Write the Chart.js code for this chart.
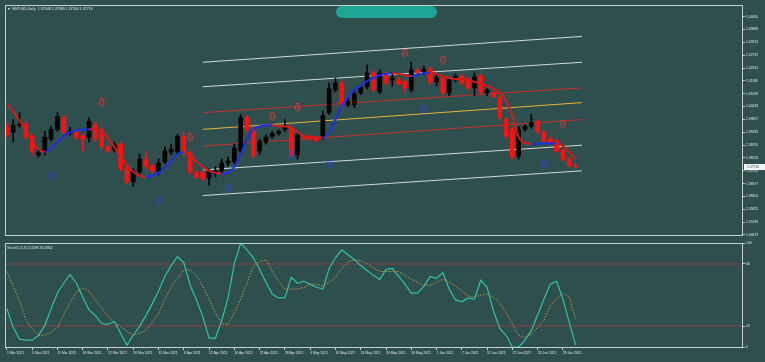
<!DOCTYPE html>
<html lang="en">
<head>
<meta charset="UTF-8">
<title>GBPUSD Daily</title>
<script src="https://cdn.jsdelivr.net/npm/chart.js"></script>
<style>
  html, body { margin: 0; padding: 0; background: #2f4f4f; overflow: hidden; }
  #wrap { position: relative; width: 765px; height: 362px; }
  #price-chart { position: absolute; left: 0; top: 0; }
  #stoch-chart { position: absolute; left: 0; top: 240px; }
  #blot { position: absolute; left: 336px; top: 6px; width: 101px; height: 12px; background: #1ea597; border-radius: 6px; }
</style>
</head>
<body>
<div id="wrap">
  <canvas id="price-chart" width="765" height="240"></canvas>
  <canvas id="stoch-chart" width="765" height="122"></canvas>
  <div id="blot"></div>
</div>
<script>
// daily candles, 1 Mar 2021 onwards
const opens = [1.3950,1.3928,1.3959,1.3963,1.3910,1.3826,1.3839,1.3897,1.3941,1.3994,
  1.3923,1.3928,1.3910,1.3906,1.3963,1.3941,1.3861,1.3852,1.3875,1.3764,
  1.3706,1.3751,1.3808,1.3777,1.3751,1.3795,1.3839,1.3839,1.3910,1.3835,
  1.3746,1.3746,1.3724,1.3742,1.3755,1.3790,1.3795,1.3844,1.3994,1.3941,
  1.3844,1.3884,1.3910,1.3923,1.3941,1.3950,1.3826,1.3910,1.3906,1.3901,
  1.3906,1.4016,1.4118,1.4149,1.4052,1.4052,1.4105,1.4132,1.4194,1.4109,
  1.4185,1.4163,1.4163,1.4154,1.4118,1.4207,1.4198,1.4211,1.4154,1.4171,
  1.4105,1.4163,1.4180,1.4163,1.4127,1.4180,1.4105,1.4105,1.4083,1.3985,
  1.3941,1.3821,1.3941,1.3954,1.3977,1.3928,1.3897,1.3888,1.3844,1.3808,1.3777];
const highs = [1.3968,1.3985,1.4016,1.3977,1.3919,1.3852,1.3932,1.3954,1.4016,1.4003,
  1.3950,1.3937,1.3919,1.3994,1.3977,1.3950,1.3870,1.3884,1.3884,1.3773,
  1.3764,1.3830,1.3844,1.3786,1.3808,1.3861,1.3875,1.3919,1.3928,1.3844,
  1.3755,1.3755,1.3764,1.3773,1.3808,1.3817,1.3875,1.4008,1.4003,1.3950,
  1.3897,1.3915,1.3932,1.3941,1.3985,1.3959,1.3923,1.3919,1.3915,1.3910,
  1.4021,1.4149,1.4171,1.4163,1.4083,1.4118,1.4140,1.4229,1.4207,1.4207,
  1.4198,1.4198,1.4176,1.4163,1.4242,1.4216,1.4225,1.4220,1.4189,1.4180,
  1.4171,1.4189,1.4189,1.4171,1.4194,1.4189,1.4123,1.4114,1.4092,1.3994,
  1.3950,1.3954,1.3963,1.4008,1.3985,1.3937,1.3906,1.3897,1.3852,1.3817,1.3790];
const lows = [1.3906,1.3884,1.3950,1.3897,1.3826,1.3817,1.3826,1.3888,1.3932,1.3919,
  1.3915,1.3897,1.3844,1.3884,1.3888,1.3852,1.3835,1.3839,1.3755,1.3697,
  1.3684,1.3742,1.3764,1.3746,1.3737,1.3786,1.3826,1.3830,1.3821,1.3742,
  1.3720,1.3711,1.3689,1.3728,1.3746,1.3777,1.3786,1.3835,1.3928,1.3812,
  1.3830,1.3875,1.3901,1.3915,1.3932,1.3817,1.3808,1.3897,1.3890,1.3885,
  1.3897,1.4008,1.4109,1.4039,1.4043,1.4039,1.4096,1.4123,1.4109,1.4101,
  1.4140,1.4136,1.4140,1.4109,1.4109,1.4185,1.4189,1.4145,1.4136,1.4096,
  1.4092,1.4154,1.4140,1.4118,1.4092,1.4101,1.4092,1.4083,1.3985,1.3901,
  1.3808,1.3808,1.3932,1.3946,1.3919,1.3884,1.3879,1.3839,1.3799,1.3773,1.3768];
const closes = [1.3919,1.3959,1.3963,1.3906,1.3844,1.3835,1.3906,1.3941,1.3999,1.3928,
  1.3932,1.3906,1.3897,1.3977,1.3897,1.3866,1.3844,1.3870,1.3764,1.3706,
  1.3751,1.3808,1.3773,1.3755,1.3790,1.3844,1.3852,1.3910,1.3839,1.3751,
  1.3728,1.3720,1.3751,1.3755,1.3790,1.3799,1.3857,1.3994,1.3941,1.3821,
  1.3888,1.3906,1.3923,1.3932,1.3950,1.3821,1.3915,1.3901,1.3897,1.3892,
  1.4003,1.4123,1.4149,1.4052,1.4065,1.4101,1.4132,1.4194,1.4118,1.4194,
  1.4149,1.4171,1.4145,1.4127,1.4207,1.4194,1.4211,1.4154,1.4171,1.4105,
  1.4163,1.4180,1.4149,1.4127,1.4176,1.4109,1.4118,1.4087,1.3994,1.3910,
  1.3817,1.3941,1.3954,1.3972,1.3928,1.3888,1.3884,1.3844,1.3808,1.3777,1.3772];

// smoothed moving average (blue rising, red falling)
const maValues = [1.4056,1.4021,1.3981,1.3937,1.3888,1.3852,1.3839,1.3857,1.3884,1.3910,
  1.3928,1.3937,1.3939,1.3941,1.3940,1.3932,1.3901,1.3861,1.3821,1.3782,
  1.3751,1.3733,1.3728,1.3733,1.3746,1.3768,1.3799,1.3830,1.3839,1.3826,
  1.3795,1.3773,1.3755,1.3746,1.3742,1.3746,1.3773,1.3830,1.3897,1.3941,
  1.3954,1.3959,1.3959,1.3956,1.3954,1.3950,1.3928,1.3910,1.3906,1.3905,
  1.3904,1.3928,1.3985,1.4047,1.4087,1.4118,1.4136,1.4158,1.4171,1.4185,
  1.4189,1.4194,1.4189,1.4185,1.4180,1.4185,1.4194,1.4196,1.4189,1.4180,
  1.4171,1.4167,1.4166,1.4163,1.4154,1.4145,1.4136,1.4123,1.4105,1.4070,
  1.3999,1.3906,1.3879,1.3875,1.3876,1.3877,1.3877,1.3877,1.3866,1.3839,1.3808];

// regression channel: start/end bar and price of each line (top to bottom)
const channelStart = 31;
const channelEnd = 91;
const channelStartPrices = [1.4242, 1.4132, 1.4016, 1.3941, 1.3866, 1.3759, 1.3644];
const channelEndPrices = [1.4358, 1.4242, 1.4127, 1.4061, 1.3985, 1.3870, 1.3755];

// signal arrows
const redArrowX = [15, 29, 42, 46, 63, 69, 88];
const redArrowY = [1.4061, 1.3906, 1.3999, 1.4039, 1.4282, 1.4251, 1.3963];
const blueArrowX = [7, 24, 35, 45, 51, 66, 85];
const blueArrowY = [1.3733, 1.3622, 1.3680, 1.3830, 1.3786, 1.4034, 1.3786];

// stochastic (5,3,3)
const stochMain = [36.8,18.9,7.5,6.6,6.6,11.3,20.8,36.8,51.9,61.3,
  69.8,61.3,48.1,35.8,30.2,22.6,21.7,24.5,13.2,1.9,
  11.3,19.8,30.2,41.5,53.8,67.9,78.3,86.8,81.1,59.4,
  45.3,29.2,8.5,8.5,25.5,47.2,80.2,100,93.4,85.8,
  74.5,62.3,50.9,47.2,47.2,67,61.3,63.2,60.4,57.5,
  55.7,75.5,85.8,93.4,88.7,84,78.3,73.6,68.9,65.1,
  74.5,75.5,67.9,60.4,51.9,51.9,58.5,67.9,66,71.7,
  55.7,45.3,43.4,47.2,46.2,64.2,57.5,34.9,17.9,11.3,
  0,0,6.6,16,31.1,46.2,60.4,63.2,46.2,23.6,2.0];
const stochSignal = [72.6,58.5,44.3,26.4,17,11.3,11.3,14.2,18.9,31.1,
  42.5,52.8,56.6,53.8,45.3,37.7,29.2,23.6,19.8,15.1,
  11.3,13.2,16,23.6,32.1,46.2,57.5,66,73.6,74.5,
  68.9,58.5,46.2,33,22.6,21.7,33,46.2,61.3,77.4,
  82.1,84,72.6,63.2,55.7,55.7,55.7,57.5,60.4,60.4,
  58.5,62.3,67,75.5,82.1,84,83,80.2,76.4,72.6,
  72.6,72.6,72.6,68.9,65.1,62.3,59.4,59.4,62.3,65.1,
  62.3,58.5,53.8,49.1,48.1,50,50.9,48.1,42.5,33,
  22.6,11.3,9.4,12.3,18.9,25.5,39.6,46.2,51.9,48.1,26.8];
const stochLevels = [80, 20];
const stochTicks = [100, 80, 20, 0];

const priceTicks = [1.44465,1.43889,1.43313,1.42737,1.42161,1.41585,1.41009,1.40433,1.39857,
  1.39281,1.38705,1.38129,1.37553,1.36977,1.36401,1.35825,1.35249,1.34673];
const xLabels = ['1 Mar 2021','5 Mar 2021','11 Mar 2021','16 Mar 2021','22 Mar 2021','26 Mar 2021',
  '31 Mar 2021','6 Apr 2021','12 Apr 2021','16 Apr 2021','22 Apr 2021','28 Apr 2021',
  '4 May 2021','10 May 2021','14 May 2021','20 May 2021','26 May 2021','1 Jun 2021',
  '7 Jun 2021','11 Jun 2021','17 Jun 2021','23 Jun 2021','29 Jun 2021'];
const labelStep = 4;
const titleText = '\u25BC GBPUSD,Daily  1.37648 1.37880 1.37344 1.37716';
const stochTitle = 'Stoch(5,3,3) 2.0298 26.8364';

// ---- styling ----
const xMin = -0.3, xMax = 116.5;
const priceMin = 1.3467, priceMax = 1.4499;
const frameColor = '#c6cfcf';
const textColor = '#dfe5e5';
const tinyFont = { family: 'Liberation Sans', size: 3.4 };
const bullColor = '#000000', bearColor = '#ff1010';

function makeArrow(color, down) {
  const c = document.createElement('canvas');
  c.width = 7; c.height = 9;
  const g = c.getContext('2d');
  if (down) { g.translate(0, 9); g.scale(1, -1); }
  g.strokeStyle = color; g.lineWidth = 1;
  g.beginPath();
  g.moveTo(3.5, 0.5); g.lineTo(6.5, 4); g.lineTo(5, 4); g.lineTo(5, 8.5);
  g.lineTo(2, 8.5); g.lineTo(2, 4); g.lineTo(0.5, 4); g.closePath();
  g.stroke();
  return c;
}

const idx = closes.map((_, i) => i);
const candleColors = idx.map(i => closes[i] >= opens[i] ? bullColor : bearColor);

const channelColors = ['#d2d8d8', '#d2d8d8', '#c8302c', '#e6b43c', '#c8302c', '#d2d8d8', '#d2d8d8'];
const channelSets = channelStartPrices.map((p, k) => ({
  type: 'line',
  data: [{ x: channelStart, y: p }, { x: channelEnd, y: channelEndPrices[k] }],
  borderColor: channelColors[k],
  borderWidth: 1,
  pointRadius: 0,
  order: 20
}));

const framePlugin = {
  id: 'frame',
  afterDraw(chart) {
    const { ctx, chartArea: a } = chart;
    ctx.save();
    ctx.strokeStyle = frameColor;
    ctx.lineWidth = 1;
    ctx.strokeRect(Math.round(a.left) + 0.5, Math.round(a.top) + 0.5,
      Math.round(a.right - a.left) - 1, Math.round(a.bottom - a.top));
    ctx.restore();
  }
};

const priceExtras = {
  id: 'priceExtras',
  afterDraw(chart) {
    const { ctx, chartArea: a, scales } = chart;
    ctx.save();
    ctx.font = '3.6px "Liberation Sans"';
    ctx.fillStyle = textColor;
    ctx.textBaseline = 'middle';
    ctx.fillText(titleText, a.left + 2, a.top + 4);
    // current price box
    const last = closes[closes.length - 1];
    const y = scales.y.getPixelForValue(last);
    ctx.fillStyle = '#f4f4f4';
    ctx.fillRect(a.right + 1, y - 3, 21, 6);
    ctx.fillStyle = '#2f4f4f';
    ctx.font = '3.4px "Liberation Sans"';
    ctx.fillText(last.toFixed(5), a.right + 4, y);
    ctx.restore();
  }
};

new Chart(document.getElementById('price-chart'), {
  type: 'bar',
  data: {
    datasets: [
      ...channelSets,
      {
        type: 'bar',
        data: idx.map(i => ({ x: i, y: [lows[i], highs[i]] })),
        backgroundColor: candleColors,
        barThickness: 1,
        grouped: false,
        order: 12
      },
      {
        type: 'bar',
        data: idx.map(i => ({ x: i, y: [opens[i], closes[i]] })),
        backgroundColor: candleColors,
        barThickness: 4,
        minBarLength: 1,
        grouped: false,
        order: 10
      },
      {
        type: 'line',
        data: idx.map(i => ({ x: i, y: maValues[i] })),
        borderWidth: 2,
        pointRadius: 0,
        cubicInterpolationMode: 'monotone',
        segment: { borderColor: c => c.p1.parsed.y >= c.p0.parsed.y ? '#1e2ee6' : '#d41a1a' },
        order: 5
      },
      {
        type: 'scatter',
        data: redArrowX.map((x, k) => ({ x: x, y: redArrowY[k] })),
        pointStyle: makeArrow('#e23a32', true),
        order: 1
      },
      {
        type: 'scatter',
        data: blueArrowX.map((x, k) => ({ x: x, y: blueArrowY[k] })),
        pointStyle: makeArrow('#2a46d8', false),
        order: 1
      }
    ]
  },
  options: {
    responsive: false,
    animation: false,
    events: [],
    layout: { padding: { left: 5, top: 4, bottom: 3, right: 0 } },
    plugins: { legend: { display: false }, tooltip: { enabled: false } },
    scales: {
      x: { type: 'linear', min: xMin, max: xMax, display: false, offset: false },
      y: {
        position: 'right',
        min: priceMin, max: priceMax,
        border: { display: false },
        grid: { drawOnChartArea: false, tickLength: 2, color: frameColor },
        ticks: { font: tinyFont, color: textColor, padding: 1, autoSkip: false, callback: v => v.toFixed(5) },
        afterBuildTicks: s => { s.ticks = priceTicks.map(v => ({ value: v })); },
        afterFit: s => { s.width = 22; }
      }
    }
  },
  plugins: [framePlugin, priceExtras]
});

const stochExtras = {
  id: 'stochExtras',
  beforeDatasetsDraw(chart) {
    const { ctx, chartArea: a, scales } = chart;
    ctx.save();
    ctx.strokeStyle = '#5c4646';
    ctx.lineWidth = 2;
    stochLevels.forEach(v => {
      const y = Math.round(scales.y.getPixelForValue(v));
      ctx.beginPath(); ctx.moveTo(a.left, y); ctx.lineTo(a.right, y); ctx.stroke();
    });
    ctx.restore();
  },
  afterDraw(chart) {
    const { ctx, chartArea: a } = chart;
    ctx.save();
    ctx.font = '3.6px "Liberation Sans"';
    ctx.fillStyle = textColor;
    ctx.textBaseline = 'middle';
    ctx.fillText(stochTitle, a.left + 2, a.top + 5);
    ctx.restore();
  }
};

new Chart(document.getElementById('stoch-chart'), {
  type: 'line',
  data: {
    datasets: [
      {
        data: idx.map(i => ({ x: i, y: stochSignal[i] })),
        borderColor: '#b59e4c',
        borderWidth: 1,
        borderDash: [1.5, 1.5],
        pointRadius: 0
      },
      {
        data: idx.map(i => ({ x: i, y: stochMain[i] })),
        borderColor: '#31c4a0',
        borderWidth: 1.2,
        pointRadius: 0
      }
    ]
  },
  options: {
    responsive: false,
    animation: false,
    events: [],
    layout: { padding: { left: 5, top: 1, bottom: 0, right: 0 } },
    plugins: { legend: { display: false }, tooltip: { enabled: false } },
    scales: {
      x: {
        type: 'linear', min: xMin, max: xMax, offset: false,
        border: { display: false },
        grid: { drawOnChartArea: false, tickLength: 3, color: frameColor },
        ticks: {
          font: tinyFont, color: textColor, padding: 1, align: 'start',
          maxRotation: 0, autoSkip: false,
          callback: v => xLabels[v / labelStep]
        },
        afterBuildTicks: s => { s.ticks = xLabels.map((_, k) => ({ value: k * labelStep })); },
        afterFit: s => { s.height = 15; }
      },
      y: {
        position: 'right', min: 0, max: 100,
        border: { display: false },
        grid: { drawOnChartArea: false, tickLength: 2, color: frameColor },
        ticks: { font: tinyFont, color: textColor, padding: 1, autoSkip: false },
        afterBuildTicks: s => { s.ticks = stochTicks.map(v => ({ value: v })); },
        afterFit: s => { s.width = 22; }
      }
    }
  },
  plugins: [framePlugin, stochExtras]
});
</script>
</body>
</html>
